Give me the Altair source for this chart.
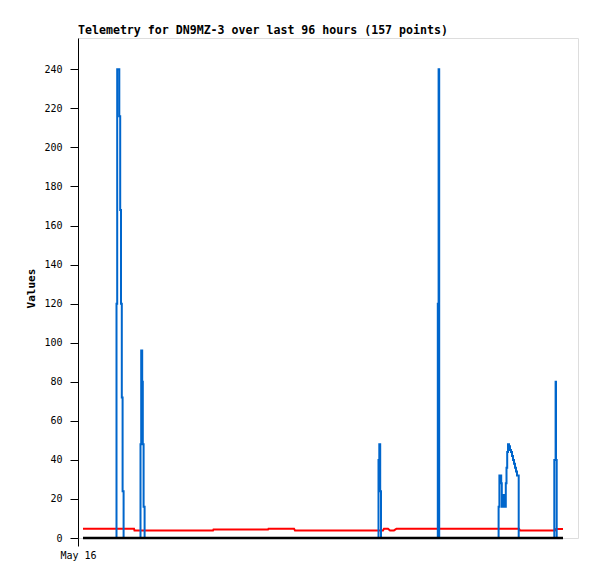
import altair as alt
import pandas as pd

# Hours since May 16 00:00 (blue drawn as steps: each value holds until the next point)
blue_h = [1.0,
          7.70, 7.84, 8.26, 8.44, 8.60, 8.76, 8.92, 9.12,
          12.50, 12.64, 12.84, 12.96, 13.12, 13.32,
          60.10, 60.26, 60.44, 60.60,
          71.96, 72.12, 72.24,
          84.12, 84.28, 84.64, 84.76, 85.00, 85.16, 85.56, 85.70, 85.84, 86.00,
          86.20, 86.40, 86.60, 86.80, 87.00, 87.20, 87.40, 87.60, 87.80, 88.14,
          95.26, 95.52, 95.60, 95.74, 97.0]
blue_v = [0,
          120, 240, 216, 168, 120, 72, 24, 0,
          48, 96, 80, 48, 16, 0,
          40, 48, 24, 0,
          120, 240, 0,
          16, 32, 28, 16, 22, 16, 28, 36, 44, 48,
          47, 45, 44, 42, 40, 38, 36, 34, 32, 0,
          40, 80, 40, 0, 0]

red_h = [1.0, 11.2, 11.3, 27.0, 27.1, 38.0, 38.1, 43.2, 43.4, 61.0, 61.2,
         62.0, 62.4, 63.2, 63.7, 88.2, 88.4, 95.4, 95.6, 97.0]
red_v = [4.8, 4.8, 3.8, 3.8, 4.3, 4.3, 4.8, 4.8, 3.8, 3.8, 4.8,
         4.8, 3.9, 3.9, 4.8, 4.8, 3.8, 3.8, 4.6, 4.6]

black_h = [1.0, 97.0]
black_v = [0, 0]

y_ticks = [0, 20, 40, 60, 80, 100, 120, 140, 160, 180, 200, 220, 240]
x_ticks = [0]
x_label = "May 16"

FONT = "DejaVu Sans Mono"

blue = pd.DataFrame({"h": blue_h, "v": blue_v})
red = pd.DataFrame({"h": red_h, "v": red_v})
black = pd.DataFrame({"h": black_h, "v": black_v})

xenc = alt.X("h:Q", scale=alt.Scale(domain=[0, 100], nice=False, zero=False),
             axis=alt.Axis(values=x_ticks, labelExpr=f"'{x_label}'", title=None,
                           grid=False, domain=False, tickSize=8, tickColor="black",
                           labelFont=FONT, labelFontSize=10, labelColor="black",
                           labelPadding=4, labelFlush=False, labelAlign="center"))
yenc = alt.Y("v:Q", scale=alt.Scale(domain=[0, 256], nice=False),
             axis=alt.Axis(values=y_ticks, title="Values", grid=False,
                           domain=True, domainColor="black", tickSize=8, tickColor="black",
                           labelFont=FONT, labelFontSize=10, labelColor="black",
                           labelPadding=8, titleFont=FONT, titleFontSize=11,
                           titleFontWeight="bold", titleColor="black",
                           titleX=-42, titleY=250))

red_l = alt.Chart(red).mark_line(color="#ff0000", strokeWidth=2, interpolate="linear").encode(x=xenc, y=yenc)
blue_l = alt.Chart(blue).mark_line(color="#0066cc", strokeWidth=2, interpolate="step-after").encode(x=xenc, y=yenc)
black_l = alt.Chart(black).mark_line(color="#000000", strokeWidth=2.5).encode(x=xenc, y=yenc)

chart = alt.layer(red_l, blue_l, black_l).properties(
    width=500, height=500,
    title=alt.TitleParams(text="Telemetry for DN9MZ-3 over last 96 hours (157 points)",
                          anchor="start", frame="group", font=FONT, fontSize=11.6,
                          fontWeight="bold", color="black", offset=1),
    autosize=alt.AutoSizeParams(type="none"),
    padding={"left": 70, "top": 30, "right": 11, "bottom": 33},
).configure_view(stroke="#404040", strokeWidth=1).configure(background="white")

chart.save("out.html", embed_options={"renderer": "svg", "actions": False})
